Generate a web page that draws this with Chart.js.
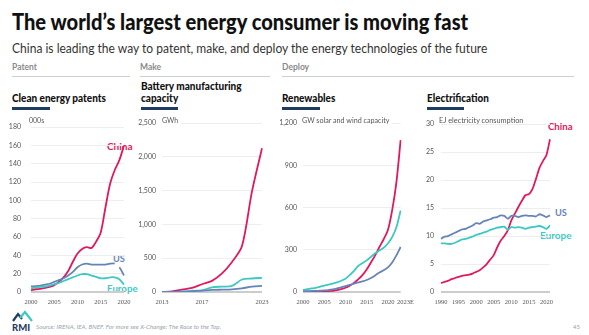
<!DOCTYPE html>
<html>
<head>
<meta charset="utf-8">
<script src="https://cdn.jsdelivr.net/npm/chart.js@4"></script>
<style>
  body { margin: 0; background: #fff; font-family: Lato, sans-serif; }
  #page { position: relative; width: 589px; height: 335px; overflow: hidden; }
  .t { position: absolute; white-space: nowrap; line-height: 1; transform-origin: left center; }
  .rule { position: absolute; height: 1.5px; background: #cfcfcf; }
  .bar { position: absolute; height: 2.5px; background: #1f3d63; }
  canvas { position: absolute; z-index: 1; }
  .unit { z-index: 2; background: #fff; padding-right: 3px; font-size: 7px; color: #555; }
  .lab { font-weight: 700; font-size: 10px; z-index: 0; }
</style>
</head>
<body>
<div id="page">
  <div class="t" data-fit="456" style="left:12px;top:11px;font-size:22px;font-weight:900;color:#111">The world’s largest energy consumer is moving fast</div>
  <div class="t" data-fit="475" style="left:12px;top:41px;font-size:14px;color:#333">China is leading the way to patent, make, and deploy the energy technologies of the future</div>

  <div class="t" style="left:12px;top:63px;font-size:8.5px;font-weight:700;color:#8a8a8a">Patent</div>
  <div class="t" style="left:140px;top:63px;font-size:8.5px;font-weight:700;color:#8a8a8a">Make</div>
  <div class="t" style="left:282px;top:63px;font-size:8.5px;font-weight:700;color:#8a8a8a">Deploy</div>
  <div class="rule" style="left:12px;top:75.5px;width:118px"></div>
  <div class="rule" style="left:140px;top:75.5px;width:130px"></div>
  <div class="rule" style="left:282px;top:75.5px;width:292px"></div>

  <div class="t" data-fit="94" style="left:12px;top:93px;font-size:10.5px;font-weight:900;color:#111">Clean energy patents</div>
  <div class="t" data-fit="101" style="left:141px;top:81px;font-size:10.5px;font-weight:900;color:#111">Battery manufacturing</div>
  <div class="t" data-fit="37" style="left:141px;top:93px;font-size:10.5px;font-weight:900;color:#111">capacity</div>
  <div class="t" data-fit="53" style="left:282px;top:93px;font-size:10.5px;font-weight:900;color:#111">Renewables</div>
  <div class="t" data-fit="62" style="left:427px;top:93px;font-size:10.5px;font-weight:900;color:#111">Electrification</div>
  <div class="bar" style="left:12px;top:107px;width:38px"></div>
  <div class="bar" style="left:141px;top:107px;width:37px"></div>
  <div class="bar" style="left:282px;top:107px;width:38px"></div>
  <div class="bar" style="left:427px;top:107px;width:37px"></div>

  <canvas id="patents" width="140" height="199" style="left:0;top:113px"></canvas>
  <canvas id="battery" width="150" height="199" style="left:130px;top:113px"></canvas>
  <canvas id="renew" width="150" height="199" style="left:270px;top:113px"></canvas>
  <canvas id="elec" width="160" height="199" style="left:420px;top:113px"></canvas>

  <div class="t unit" style="left:29px;top:116.5px">000s</div>
  <div class="t unit" style="left:162px;top:116.5px">GWh</div>
  <div class="t unit" data-fit="90" style="left:302px;top:116.5px">GW solar and wind capacity</div>
  <div class="t unit" data-fit="88" style="left:439px;top:116.5px">EJ electricity consumption</div>

  <div class="t lab" data-fit="26" style="left:107px;top:141px;color:#e0195c">China</div>
  <div class="t lab" data-fit="12" style="left:113px;top:253px;color:#6684b8">US</div>
  <div class="t lab" data-fit="31" style="left:107px;top:283px;color:#3ec8c2">Europe</div>
  <div class="t lab" data-fit="25" style="left:548px;top:121px;color:#e0195c">China</div>
  <div class="t lab" data-fit="12" style="left:555px;top:207px;color:#6684b8">US</div>
  <div class="t lab" data-fit="32" style="left:540px;top:230px;color:#3ec8c2">Europe</div>

  <svg style="position:absolute;left:12px;top:310px" width="24" height="21" viewBox="0 0 24 21">
    <polyline points="1,11 6,4 10,9" fill="none" stroke="#1f3d63" stroke-width="2.2"/>
    <polyline points="8,8 13,2 20,11" fill="none" stroke="#3ec8c2" stroke-width="2.2"/>
    <text x="0" y="20.5" font-family="Lato" font-weight="900" font-size="9.5" fill="#1f3d63">RMI</text>
  </svg>
  <div class="t" data-fit="185" style="left:36px;top:324px;font-size:6px;font-style:italic;color:#9aa3ab">Source: IRENA, IEA, BNEF. For more see X-Change: The Race to the Top.</div>
  <div class="t" style="left:573px;top:324px;font-size:6px;color:#9aa3ab">45</div>
</div>

<script>
// Clean energy patents, 000s
const patentYears = [2000, 2001, 2002, 2003, 2004, 2005, 2006, 2007, 2008, 2009, 2010,
  2011, 2012, 2013, 2014, 2015, 2016, 2017, 2018, 2019, 2020];
const patentChina = [2, 3, 3.5, 4.5, 5.5, 7.5, 11, 16, 23, 33, 42, 47, 49, 48, 55, 65, 92, 118, 133, 144, 160];
const patentUS = [6, 6.5, 7, 8, 9, 11, 13, 15, 18, 22, 27, 30, 31, 30, 30, 30, 30, 31, 31, 27, 18];
const patentEurope = [4, 5, 5.5, 6, 7, 8.5, 10, 12, 14, 16, 18, 19.5, 19.5, 18, 16.5, 15, 15, 16, 16, 14, 8];
const patentTicks = {2000: '2000', 2005: '2005', 2010: '2010', 2015: '2015', 2020: '2020'};

// Battery manufacturing capacity, GWh
const batteryYears = [2013, 2014, 2015, 2016, 2017, 2018, 2019, 2020, 2021, 2022, 2023];
const batteryChina = [0, 10, 35, 60, 115, 165, 275, 445, 680, 1490, 2130];
const batteryUS = [0, 2, 5, 10, 20, 30, 35, 40, 55, 80, 90];
const batteryEurope = [0, 2, 5, 20, 25, 70, 80, 90, 185, 200, 210];
const batteryTicks = {2013: '2013', 2017: '2017', 2023: '2023'};

// Renewables, GW solar and wind capacity
const renewYears = [2000, 2001, 2002, 2003, 2004, 2005, 2006, 2007, 2008, 2009, 2010, 2011,
  2012, 2013, 2014, 2015, 2016, 2017, 2018, 2019, 2020, 2021, 2022, 2023];
const renewChina = [2, 2, 3, 3, 4, 5, 7, 9, 13, 20, 30, 45, 65, 90, 120, 160, 210, 260, 320, 375, 440, 580, 780, 1080];
const renewUS = [5, 6, 7, 8, 9, 11, 14, 18, 25, 33, 42, 50, 60, 68, 75, 85, 100, 118, 138, 155, 175, 210, 260, 320];
const renewEurope = [15, 20, 25, 30, 37, 45, 52, 60, 68, 80, 95, 120, 150, 185, 205, 225, 250, 275, 295, 315, 345, 390, 460, 580];
// leading spaces nudge 2023E right, clear of 2020
const renewTicks = {2000: '2000', 2005: '2005', 2010: '2010', 2015: '2015', 2020: '2020', 2023: '\u2003\u20022023E'};

// Electrification, EJ electricity consumption
const elecYears = [1990, 1991, 1992, 1993, 1994, 1995, 1996, 1997, 1998, 1999, 2000, 2001,
  2002, 2003, 2004, 2005, 2006, 2007, 2008, 2009, 2010, 2011, 2012, 2013, 2014, 2015,
  2016, 2017, 2018, 2019, 2020, 2021];
const elecChina = [1.6, 1.8, 2.0, 2.3, 2.5, 2.7, 2.9, 3.0, 3.1, 3.3, 3.6, 3.9, 4.4, 5.0, 5.8, 6.6,
  8.0, 9.2, 10.0, 11.0, 12.8, 14.0, 15.2, 16.3, 17.3, 17.5, 18.4, 20.2, 22.2, 23.4, 24.5, 27.3];
const elecUS = [9.5, 9.9, 10.0, 10.3, 10.6, 10.9, 11.2, 11.3, 11.6, 11.9, 12.3, 12.2, 12.6, 12.8, 13.0, 13.3,
  13.4, 13.7, 13.6, 13.1, 13.6, 13.6, 13.4, 13.6, 13.7, 13.6, 13.6, 13.5, 13.9, 13.7, 13.4, 13.7];
const elecEurope = [8.7, 8.7, 8.6, 8.6, 8.8, 9.1, 9.4, 9.5, 9.7, 9.9, 10.2, 10.4, 10.6, 10.8, 11.1, 11.3,
  11.5, 11.6, 11.7, 11.1, 11.6, 11.5, 11.6, 11.5, 11.3, 11.5, 11.6, 11.7, 11.8, 11.6, 11.3, 11.9];
const elecTicks = {1990: '1990', 1995: '1995', 2000: '2000', 2005: '2005', 2010: '2010', 2015: '2015', 2020: '2020'};

const CHINA = '#e0195c';
const US = '#6684b8';
const EUROPE = '#3ec8c2';

Chart.defaults.font.family = 'Lato';
Chart.defaults.color = '#555';

// squeeze text to the widths seen in the picture
document.querySelectorAll('[data-fit]').forEach(el => {
  el.style.transform = 'scaleX(' + (el.dataset.fit / el.offsetWidth) + ')';
});

function line(data, color, extra) {
  return Object.assign({
    data: data,
    borderColor: color,
    borderWidth: 1.8,
    pointRadius: 0,
    tension: 0.3,
    fill: false
  }, extra || {});
}

function panel(id, years, ticks, datasets, max, step, axisWidth, pad, rightPad) {
  return new Chart(document.getElementById(id), {
    type: 'line',
    data: { labels: years, datasets: datasets },
    options: {
      responsive: false,
      animation: false,
      layout: { padding: { top: 7, right: rightPad, left: 0, bottom: 0 } },
      plugins: { legend: { display: false }, tooltip: { enabled: false } },
      scales: {
        x: {
          grid: { display: false, drawTicks: false },
          border: { display: false },
          ticks: {
            autoSkip: false,
            maxRotation: 0,
            padding: 6,
            font: { family: 'Liberation Sans Narrow', size: 6.5 },
            callback: function (value) {
              return ticks[this.getLabelForValue(value)] || '';
            }
          },
          afterFit: s => { s.height = 20; }
        },
        y: {
          min: 0,
          max: max,
          border: { display: false },
          grid: {
            drawTicks: false,
            color: ctx => ctx.tick.value === 0 ? '#cccccc' : '#eeeeee',
            lineWidth: ctx => ctx.tick.value === 0 ? 2 : 1
          },
          ticks: {
            stepSize: step,
            padding: pad,
            font: { size: 7 },
            callback: v => v.toLocaleString('en-US')
          },
          afterFit: s => { s.width = axisWidth; }
        }
      }
    }
  });
}

panel('patents', patentYears, patentTicks, [
  line(patentEurope, EUROPE),
  line(patentUS, US, { segment: { borderColor: ctx => ctx.p0DataIndex === 18 ? 'rgba(0,0,0,0)' : US } }),
  line(patentChina, CHINA)
], 180, 20, 31, 10, 16);

panel('battery', batteryYears, batteryTicks, [
  line(batteryUS, US),
  line(batteryEurope, EUROPE),
  line(batteryChina, CHINA)
], 2500, 500, 32, 6, 18);

panel('renew', renewYears, renewTicks, [
  line(renewUS, US),
  line(renewEurope, EUROPE),
  line(renewChina, CHINA)
], 1200, 300, 33, 6, 13);

panel('elec', elecYears, elecTicks, [
  line(elecEurope, EUROPE, { tension: 0.2 }),
  line(elecUS, US, { tension: 0.2 }),
  line(elecChina, CHINA, { tension: 0.2 })
], 30, 5, 21, 7, 30);
</script>
</body>
</html>
